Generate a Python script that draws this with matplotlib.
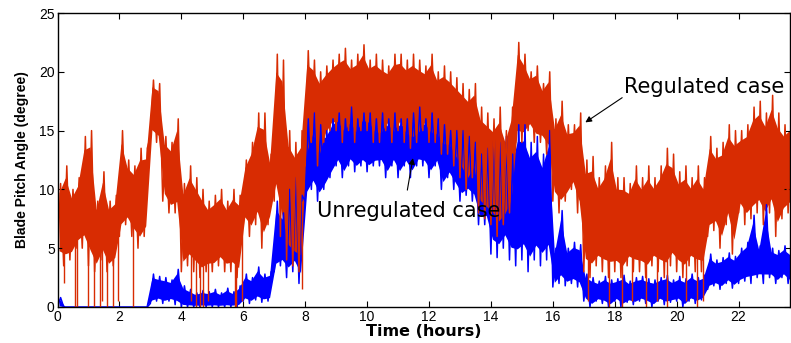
import numpy as np
import matplotlib
matplotlib.use("Agg")
import matplotlib.pyplot as plt

plt.rcParams["font.family"] = ["Liberation Sans", "DejaVu Sans"]

# Envelope: one (low, high) pair per 0.2 h bin
bin_width = 0.2

regulated_low = [
    4, 3.5, 4, 5, 5,
    3.5, 3, 4, 3, 3.5,
    6, 7, 6, 5, 6,
    14.5, 14, 9, 8, 8,
    3, 3.5, 3, 2.5, 3,
    3, 3.5, 3, 3, 2.5,
    7, 6, 7, 5, 7,
    9, 6, 4, 3.5, 3,
    12, 14, 12, 14, 15,
    15, 14, 15, 14, 15,
    15, 14, 14, 15, 14,
    15, 14, 13.5, 14, 15,
    14, 14, 13, 13, 12,
    11, 10, 11, 8, 7.5,
    7, 6, 7, 8, 14,
    14, 15, 14, 14, 13,
    9, 8, 9, 10, 8,
    3, 2.5, 3.5, 3, 2.5,
    3, 2.5, 3.5, 3, 3,
    2.5, 3.5, 3, 2.5, 3.5,
    3, 2.5, 3.5, 3, 3,
    6, 6.5, 5, 7, 4.5,
    8, 7, 7.5, 8, 7,
    8, 6, 7.5, 8,
]
regulated_high = [
    10.5, 12, 10, 11, 14.5,
    15, 9, 11.5, 9, 9.5,
    15, 12.5, 12, 13.5, 13.5,
    19.3, 19, 14.5, 14, 16,
    10.5, 12, 11, 10, 9,
    9.5, 10, 9, 10, 9.5,
    12.5, 14, 16.5, 16.5, 13,
    21.5, 21, 15, 14, 15,
    21.8, 21, 20, 20.5, 21,
    21.5, 22, 21, 21.5, 22.3,
    21, 21.5, 21, 20.5, 21.5,
    21.5, 21, 21.5, 21, 20.5,
    21.5, 20, 20.5, 20, 19.5,
    19, 18.5, 19, 17, 16.5,
    16, 17, 15, 17, 22.5,
    21.5, 20, 20.5, 19, 20,
    16, 17.5, 15.5, 15.5, 16.5,
    12.5, 12.8, 11, 12, 14,
    11, 11, 10.5, 12, 11,
    12, 11, 12, 13.5, 13,
    11.5, 12, 11, 12, 11,
    14.5, 13.5, 14, 15.5, 15,
    15, 15.5, 17, 17.5, 16.5,
    18, 16.5, 15.5, 16,
]
# deep single spikes of the regulated case (time h, lowest value)
regulated_dip_t = [0.2, 0.56, 0.62, 1.0, 1.18, 1.37, 1.43, 1.59, 1.8, 1.95, 2.45,
                   4.32, 4.48, 4.59, 4.7, 4.85, 5.72, 5.77, 5.95, 7.9,
                   17.15, 17.8, 18.25, 18.55, 19.0, 19.35, 19.7, 20.3, 20.65, 20.85]
regulated_dip_v = [2, 0, 0, 0, 0, 0, 0.5, 0, 0, 0.5, 0,
                   0.5, 0, 0, 0, 0.5, 0, 0, 0.5, 1.5,
                   0.5, 0, 0, 0.5, 0, 0.5, 0, 0.5, 0, 0.5]

unregulated_low = [
    0, 0, 0, 0, 0,
    0, 0, 0, 0, 0,
    0, 0, 0, 0, 0,
    0.3, 0.5, 0.3, 0.5, 0.2,
    0, 0, 0, 0, 0,
    0, 0, 0, 0, 0,
    0.5, 0.3, 0.6, 0.4, 0.5,
    3, 3.5, 2.5, 3, 2,
    9, 10, 9, 10, 11,
    12, 11, 12, 11.5, 12,
    11.5, 12, 12, 11, 12,
    11, 12, 11, 12, 12,
    11, 12, 10, 11, 10,
    9, 9.5, 9, 7, 7,
    4.5, 4.2, 5, 4, 3.5,
    4, 3, 4, 3.5, 4,
    1.7, 2, 1.8, 2, 1.7,
    0.5, 0, 0.5, 0.3, 0,
    0.5, 0, 0.4, 0.2, 0.5,
    0.3, 0, 0.5, 0.2, 0.4,
    0.5, 0, 0.5, 0.3, 0.6,
    1.5, 1.8, 1.5, 2, 1.6,
    2, 2.2, 2, 2.5, 2,
    2.5, 2, 2.5, 2,
]
unregulated_high = [
    0.8, 0, 0, 0, 0,
    0, 0, 0, 0, 0,
    0, 0, 0, 0, 0,
    2.8, 2.6, 2.5, 2.3, 3.2,
    1.8, 1.5, 1.2, 1.4, 1.3,
    1.5, 1.2, 1.6, 1.3, 1.8,
    2.8, 2.5, 3.4, 2.8, 3.0,
    9, 8, 10, 11, 9.5,
    16, 16.5, 15.5, 15, 16,
    16.5, 16, 17, 16, 16.5,
    16.5, 16, 16.5, 16, 16.5,
    16, 16, 16.5, 17, 16,
    16.5, 16, 15.5, 15, 15,
    15, 14.5, 14, 13, 13.5,
    15, 14, 14.5, 13, 15.5,
    15.5, 14, 14.5, 13, 15,
    5, 8.2, 5, 5.5, 5.3,
    2.8, 2.5, 2.2, 2.6, 2.3,
    2.4, 2.7, 2.2, 2.5, 2.6,
    2.4, 2.3, 2.5, 2.7, 2.3,
    2.6, 2.4, 2.8, 2.5, 2.7,
    4.5, 4, 4.2, 4.6, 4.3,
    5, 5.5, 7.8, 5.2, 8.7,
    5, 4.8, 5.2, 4.8,
]

red = "#d82c02"
blue = "#0000ff"


def zigzag(low, high):
    # each bin: low at its start, high half a bin later
    t0 = np.arange(len(low)) * bin_width
    t = np.column_stack([t0, t0 + bin_width / 2]).ravel()
    y = np.column_stack([low, high]).ravel()
    return t, y


def draw_band(ax, low, high, color):
    low = np.asarray(low, float)
    high = np.asarray(high, float)
    span = high - low
    tc = np.arange(len(low)) * bin_width + bin_width / 4
    # solid core, spikes reach the full envelope
    ax.fill_between(tc, low + 0.12 * span, high - 0.12 * span, color=color, lw=0)
    t, y = zigzag(low, high)
    ax.plot(t, y, color=color, lw=1.1)


fig = plt.figure(figsize=(7.91, 3.43), dpi=100)
ax = fig.add_axes([0.0727, 0.105, 0.926, 0.857])

draw_band(ax, unregulated_low, unregulated_high, blue)
draw_band(ax, regulated_low, regulated_high, red)
body = np.interp(regulated_dip_t, np.arange(len(regulated_low)) * bin_width, regulated_low)
ax.vlines(regulated_dip_t, regulated_dip_v, body + 1.5, color=red, lw=1.0)

ax.set_xlim(0, 23.66)
ax.set_ylim(0, 25)
ax.set_xticks(np.arange(0, 23, 2))
ax.set_yticks(np.arange(0, 26, 5))
ax.tick_params(direction="in", top=True, right=True, labelsize=10, length=4, pad=2)
for s in ax.spines.values():
    s.set_linewidth(1.0)

ax.set_xlabel("Time (hours)", fontsize=11.5, fontweight="bold", labelpad=0,
              family="DejaVu Sans")
ax.set_ylabel("Blade Pitch Angle (degree)", fontsize=10, fontweight="bold", labelpad=7)

arrow = dict(arrowstyle="-|>", color="k", lw=0.8, mutation_scale=9, shrinkA=0, shrinkB=0)
ax.text(18.3, 18.7, "Regulated case", fontsize=15, ha="left", va="center",
        family="DejaVu Sans")
ax.annotate("", xy=(17.05, 15.7), xytext=(18.24, 17.8), arrowprops=arrow)
ax.text(8.37, 8.2, "Unregulated case", fontsize=15, ha="left", va="center",
        family="DejaVu Sans")
ax.annotate("", xy=(11.48, 12.66), xytext=(11.3, 9.94), arrowprops=arrow)

fig.savefig("out.png", dpi=100)
